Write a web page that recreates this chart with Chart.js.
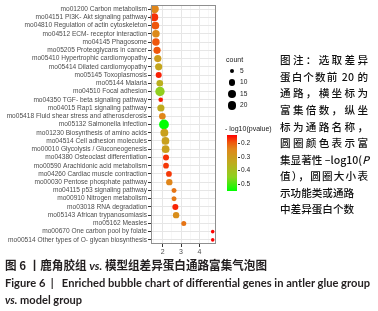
<!DOCTYPE html>
<html><head><meta charset="utf-8">
<script src="https://cdn.jsdelivr.net/npm/chart.js@4/dist/chart.umd.min.js"></script>
<style>
html,body{margin:0;padding:0;background:#fff;width:378px;height:311px;overflow:hidden;position:relative}
#c{position:absolute;left:0;top:0}
.t{position:absolute;white-space:nowrap;line-height:1;transform-origin:0 50%}
.leg{font-family:"Liberation Sans",Arial,sans-serif;color:#1a1a1a}
.cn{font-family:"Noto Sans CJK SC",sans-serif;color:#111;font-weight:500;font-size:10.6px;position:absolute;left:280px;width:88px;text-align:justify;text-align-last:justify;line-height:1;white-space:nowrap}
.cn.nat{text-align:left;text-align-last:left}
.cap{font-weight:bold;color:#231f20}
</style></head><body>
<canvas id="c" width="378" height="311"></canvas>
<div id="overlay"></div>
<script>
// ---------- data ----------
const categories = [
 "mo01200 Carbon metabolism",
 "mo04151 PI3K- Akt signaling pathway",
 "mo04810 Regulation of actin cytoskeleton",
 "mo04512 ECM- receptor interaction",
 "mo04145 Phagosome",
 "mo05205 Proteoglycans in cancer",
 "mo05410 Hypertrophic cardiomyopathy",
 "mo05414 Dilated cardiomyopathy",
 "mo05145 Toxoplasmosis",
 "mo05144 Malaria",
 "mo04510 Focal adhesion",
 "mo04350 TGF- beta signaling pathway",
 "mo04015 Rap1 signaling pathway",
 "mo05418 Fluid shear stress and atherosclerosis",
 "mo05132 Salmonella infection",
 "mo01230 Biosynthesis of amino acids",
 "mo04514 Cell adhesion molecules",
 "mo00010 Glycolysis / Gluconeogenesis",
 "mo04380 Osteoclast differentiation",
 "mo00590 Arachidonic acid metabolism",
 "mo04260 Cardiac muscle contraction",
 "mo00030 Pentose phosphate pathway",
 "mo04115 p53 signaling pathway",
 "mo00910 Nitrogen metabolism",
 "mo03018 RNA degradation",
 "mo05143 African trypanosomiasis",
 "mo05162 Measles",
 "mo00670 One carbon pool by folate",
 "mo00514 Other types of O- glycan biosynthesis"
];
const richFactor = [1.56,1.54,1.60,1.63,1.63,1.69,1.73,1.78,1.78,1.84,1.85,1.89,1.90,1.98,2.07,2.09,2.15,2.16,2.18,2.18,2.34,2.36,2.62,2.62,2.69,2.73,3.15,4.73,4.73];
const geneCount  = [17,15,14,13,13,12,12,12,8,10,22,4,12,10,24,15,14,14,8,7,7,9,5,5,8,9,5,2,2];
const negLog10P  = [0.24,0.165,0.19,0.25,0.19,0.19,0.30,0.325,0.155,0.35,0.44,0.15,0.34,0.24,0.55,0.31,0.31,0.31,0.165,0.17,0.17,0.24,0.22,0.225,0.157,0.26,0.22,0.135,0.135];
const xTickValues = [2,3,4];
const countBreaks = [5,10,15,20];
const colorBreaks = [0.2,0.3,0.4,0.5];

// ---------- scales for size / colour ----------
function radius(c){ return 0.5 + 0.894*Math.sqrt(c); }
const cMin = Math.min(...negLog10P), cMax = Math.max(...negLog10P);
const stops = [[0,[255,0,0]],[0.125,[240,84,12]],[0.25,[224,134,26]],[0.5,[190,172,30]],[0.75,[142,209,31]],[1,[0,255,0]]];
function colAt(t){
  t=Math.max(0,Math.min(1,t));
  for(let i=1;i<stops.length;i++){
    if(t<=stops[i][0]){
      const [t0,a]=stops[i-1],[t1,b]=stops[i];const f=(t-t0)/(t1-t0);
      return 'rgb('+a.map((v,k)=>Math.round(v+(b[k]-v)*f)).join(',')+')';
    }
  }
  return 'rgb(0,255,0)';
}
function colorFor(v){ return colAt((v-cMin)/(cMax-cMin)); }

// ---------- chart ----------
const minorTicks = [];
xTickValues.forEach(v=>{minorTicks.push(v-0.5)}); minorTicks.push(xTickValues[xTickValues.length-1]+0.5);
const allTicks = xTickValues.concat(minorTicks).sort((a,b)=>a-b);

const borderPlugin = {
  id:'panelBorder',
  afterDatasetsDraw(chart){
    const a=chart.chartArea, ctx=chart.ctx;
    ctx.save(); ctx.strokeStyle='#8f8f8f'; ctx.lineWidth=1;
    ctx.strokeRect(Math.round(a.left)+0.5,Math.round(a.top)+0.5,Math.round(a.right-a.left)-1,Math.round(a.bottom-a.top)-1);
    ctx.restore();
  }
};

new Chart(document.getElementById('c'),{
  type:'bubble',
  data:{datasets:[{
    data: categories.map((cat,i)=>({x:richFactor[i], y:cat, r:radius(geneCount[i])})),
    backgroundColor: negLog10P.map(colorFor),
    borderWidth:0,
    hoverRadius:0,
    clip:false
  }]},
  options:{
    responsive:false, animation:false, devicePixelRatio:1,
    events:[],
    layout:{padding:{left:0,right:162,top:3,bottom:0}},
    plugins:{legend:{display:false},tooltip:{enabled:false}},
    scales:{
      x:{
        type:'linear', min:1.36, max:4.91,
        afterBuildTicks:s=>{ s.ticks = allTicks.map(v=>({value:v})); },
        ticks:{callback:v=>xTickValues.includes(v)?String(v):'', font:{family:'Liberation Sans',size:7}, color:'#4d4d4d', padding:1, maxRotation:0, autoSkip:false},
        grid:{
          color:c=>xTickValues.includes(c.tick&&c.tick.value)?'#e6e6e6':'#f2f2f2',
          lineWidth:c=>xTickValues.includes(c.tick&&c.tick.value)?1:0.6,
          tickLength:3,
          tickColor:c=>xTickValues.includes(c.tick&&c.tick.value)?'#333':'rgba(0,0,0,0)'
        },
        border:{display:false},
        afterFit:s=>{ s.height=67; }
      },
      y:{
        type:'category', labels:categories, offset:true,
        ticks:{font:{family:'Liberation Sans',size:6.6}, color:'#4d4d4d', padding:1, autoSkip:false},
        grid:{color:'#e6e6e6', lineWidth:1, tickLength:3, tickColor:'#333'},
        border:{display:false},
        afterFit:s=>{ s.width=151; }
      }
    }
  },
  plugins:[borderPlugin]
});

// ---------- legends & text (HTML) ----------
const ov = document.getElementById('overlay');
function add(html, style, cls){ const d=document.createElement('div'); d.className=cls||'t'; d.innerHTML=html; Object.assign(d.style,style); ov.appendChild(d); return d; }

add('count',{left:'226px',top:'56px',fontSize:'7px'},'t leg');
const dotYs=[71,82.3,94,105.5];
countBreaks.forEach((c,i)=>{
  const r=radius(c);
  add('',{left:(232-r)+'px',top:(dotYs[i]-r)+'px',width:(2*r)+'px',height:(2*r)+'px',borderRadius:'50%',background:'#000'},'t');
  add(String(c),{left:'240px',top:(dotYs[i]-3.5)+'px',fontSize:'6.6px'},'t leg');
});

add('- log10(pvalue)',{left:'225px',top:'125px',fontSize:'7px'},'t leg');
const barTop=135, barH=56, barL=227, barW=10;
const gstops=stops.map(s=>colAt(s[0])+' '+(s[0]*100)+'%').join(',');
add('',{left:barL+'px',top:barTop+'px',width:barW+'px',height:barH+'px',background:'linear-gradient(to bottom,'+gstops+')'},'t');
colorBreaks.forEach(v=>{
  const y=barTop+(v-cMin)/(cMax-cMin)*barH;
  add('',{left:(barL+barW+1)+'px',top:(y-0.5)+'px',width:'2px',height:'1px',background:'#333'},'t');
  add(v.toFixed(1),{left:(barL+barW+4)+'px',top:(y-3.3)+'px',fontSize:'6.6px'},'t leg');
});

// Chinese annotation
const cnLines=[
 ['图注：选取差异',false],
 ['蛋白个数前 20 的',false],
 ['通路，横坐标为',false],
 ['富集倍数，纵坐',false],
 ['标为通路名称，',false],
 ['圆圈颜色表示富',false],
 ['集显著性 –log10(<i>P</i>',false],
 ['值），圆圈大小表',false],
 ['示功能类或通路',true],
 ['中差异蛋白个数',true]
];
cnLines.forEach((l,i)=>{
  const cy=61.3+i*16.57;
  add(l[0],{top:(cy-6)+'px'},'cn'+(l[1]?' nat':''));
});

// captions
const c1=add('图 6 丨鹿角胶组 <i style="font-family:Lato,sans-serif">vs.</i> 模型组差异蛋白通路富集气泡图',{left:'5px',top:'259px',fontSize:'12px',fontFamily:'"Noto Sans CJK SC",sans-serif'},'t cap');
const c2=add('Figure 6 &nbsp;|&nbsp;&nbsp; Enriched bubble chart of differential genes in antler glue group',{left:'5px',top:'278px',fontSize:'10.5px',fontFamily:'Lato,"Open Sans",sans-serif'},'t cap');
const c3=add('<i>vs.</i> model group',{left:'5px',top:'295px',fontSize:'10.5px',fontFamily:'Lato,"Open Sans",sans-serif'},'t cap');
function fitW(el,w){ const a=el.getBoundingClientRect().width; if(a>0) el.style.transform='scaleX('+(w/a)+')'; }
fitW(c1,262); fitW(c2,365); fitW(c3,77);
</script>
</body></html>
